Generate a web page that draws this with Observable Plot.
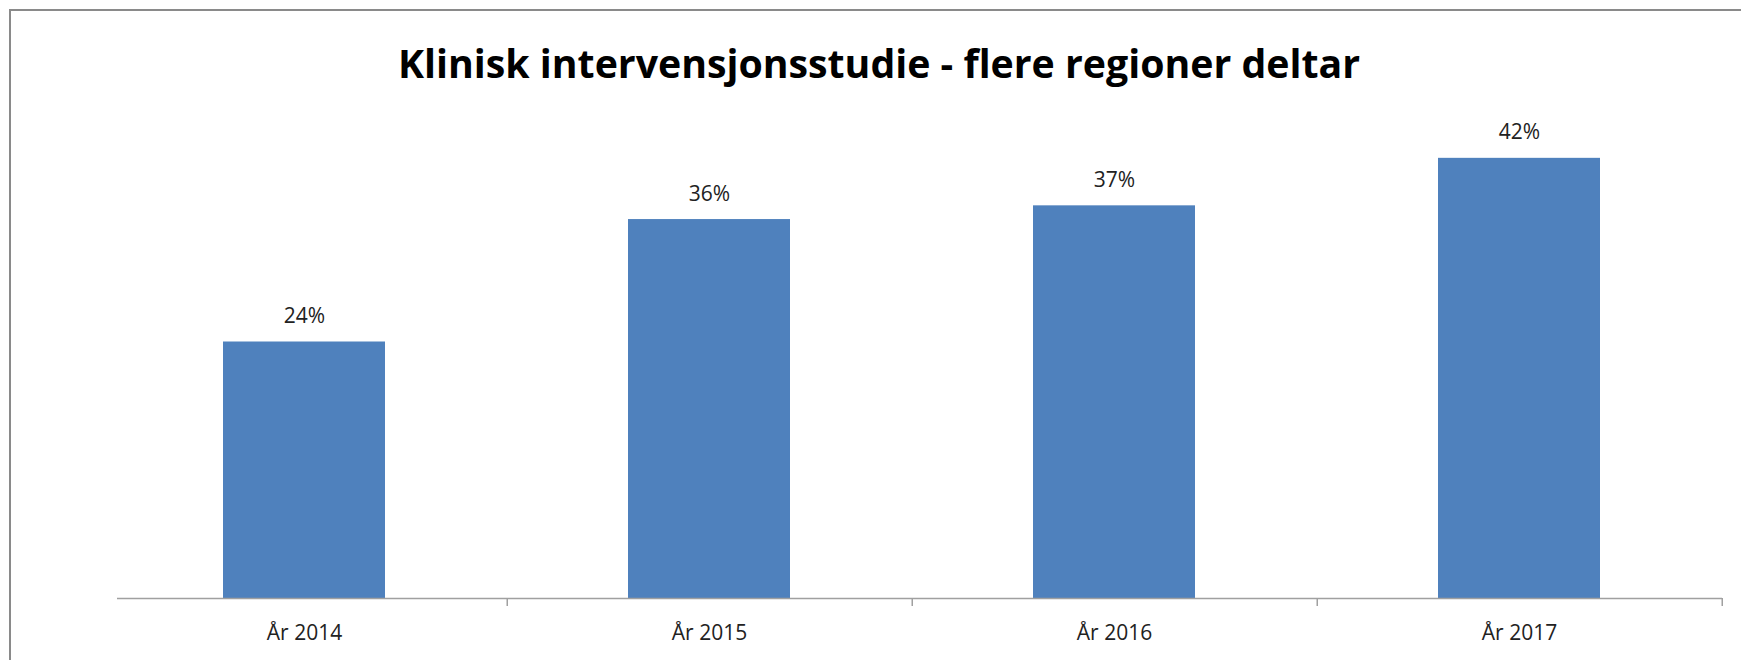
<!DOCTYPE html>
<html>
<head>
<meta charset="utf-8">
<script src="https://cdn.jsdelivr.net/npm/d3@7"></script>
<script src="https://cdn.jsdelivr.net/npm/@observablehq/plot@0.6"></script>
<style>
  html, body { margin: 0; padding: 0; background: #fff; overflow: hidden; }
  #wrap { position: relative; width: 1741px; height: 660px; overflow: hidden; }
  #borderTop { position: absolute; left: 9px; top: 9px; width: 1732px; height: 2px; background: #8a8a8a; }
  #borderLeft { position: absolute; left: 9px; top: 9px; width: 2px; height: 651px; background: #8a8a8a; }
  #header { position: relative; height: 110px; }
  #title { position: absolute; white-space: nowrap; font-family: "Open Sans", sans-serif; font-weight: 700;
           line-height: 1; color: #000; transform-origin: 0 0; }
  #chart { position: relative; height: 550px; }
</style>
</head>
<body>
<div id="wrap">
  <div id="header"><div id="title"></div></div>
  <div id="chart"></div>
  <div id="borderTop"></div>
  <div id="borderLeft"></div>
</div>
<script>
const titleText = "Klinisk intervensjonsstudie - flere regioner deltar";
const categories = ["År 2014", "År 2015", "År 2016", "År 2017"];
const values = [24.3, 35.9, 37.2, 41.7];
const valueLabels = ["24%", "36%", "37%", "42%"];

const data = categories.map((c, i) => ({cat: c, value: values[i], label: valueLabels[i]}));

// Title
const fs = 39;
const titleEl = document.getElementById("title");
titleEl.textContent = titleText;
titleEl.style.fontSize = fs + "px";
const ctx = document.createElement("canvas").getContext("2d");
ctx.font = `700 ${fs}px "Open Sans"`;
const tw = ctx.measureText(titleText).width;
const targetW = 962;
const sx = targetW / tw;
titleEl.style.transform = `scaleX(${sx})`;
titleEl.style.left = (879 - targetW / 2) + "px";
titleEl.style.top = (78 - 0.888 * fs) + "px";

// Chart
const W = 1741, H = 550;
const mL = 100, mR = 19, mT = 13, mB = 62;
const step = (W - mL - mR) / categories.length;

const chart = Plot.plot({
  width: W,
  height: H,
  marginLeft: mL,
  marginRight: mR,
  marginTop: mT,
  marginBottom: mB,
  style: {fontFamily: "'Open Sans', sans-serif", fontSize: "21px", color: "#222", background: "transparent"},
  x: {domain: categories, paddingInner: 0.6, paddingOuter: 0.3, label: null},
  y: {domain: [0, 45], axis: null},
  marks: [
    Plot.barY(data, {x: "cat", y: "value", fill: "#4f81bd"}),
    Plot.ruleY([0], {stroke: "#a0a0a0", strokeWidth: 1.5, insetLeft: 17}),
    Plot.axisX({tickSize: 0, tickPadding: 27, fill: "#222", fontSize: 21}),
    Plot.axisX({tickSize: 8, tickFormat: () => "", stroke: "#a0a0a0", strokeWidth: 1.5, dx: step / 2}),
    Plot.text(data, {x: "cat", y: "value", text: "label", lineAnchor: "bottom", dy: -19, fill: "#222", fontSize: 21})
  ]
});
document.getElementById("chart").appendChild(chart);
</script>
</body>
</html>
